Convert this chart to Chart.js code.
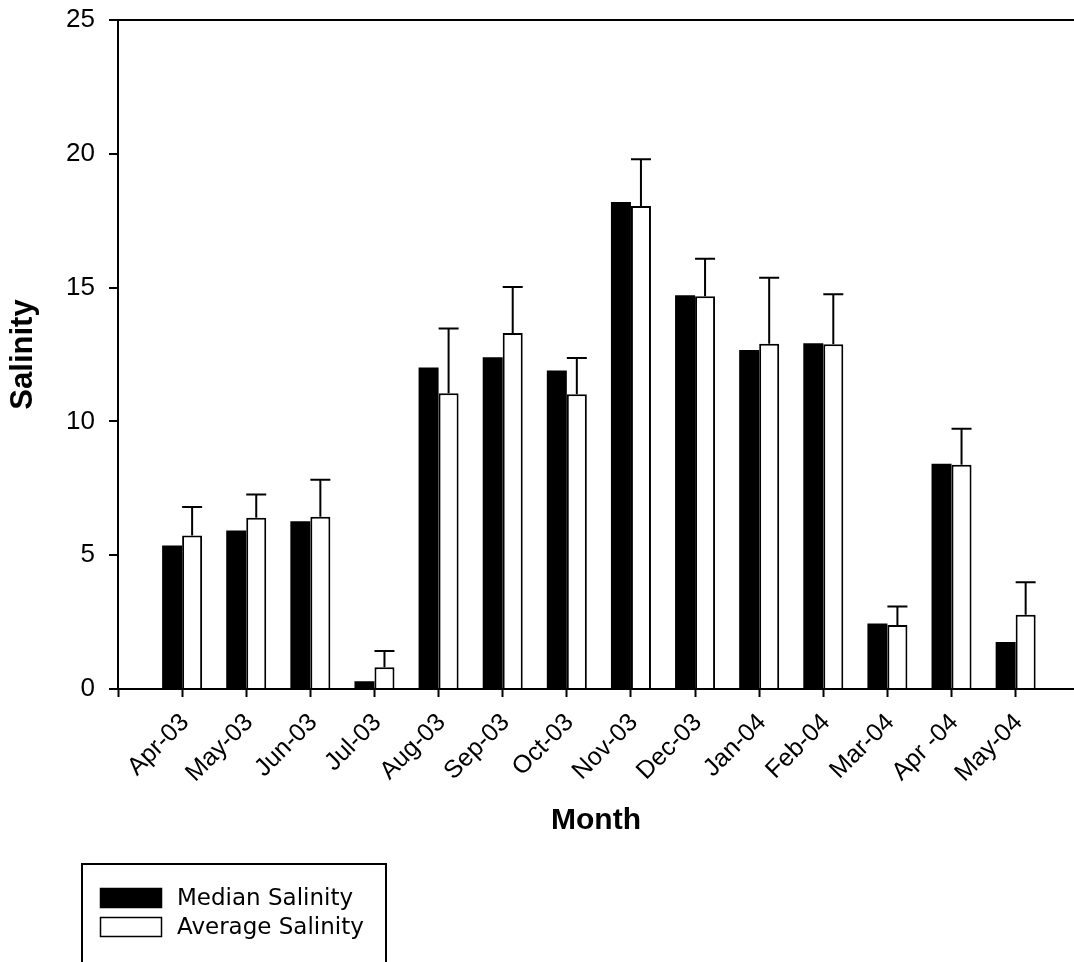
<!DOCTYPE html>
<html>
<head>
<meta charset="utf-8">
<script src="https://cdn.jsdelivr.net/npm/chart.js@4/dist/chart.umd.min.js"></script>
<style>
  html, body { margin: 0; padding: 0; background: #fff; overflow: hidden; }
  #wrap { width: 1074px; height: 962px; position: relative; }
</style>
</head>
<body>
<div id="wrap"><canvas id="chart"></canvas></div>
<script>
// 月ごとの塩分データ
const months = ['Apr-03', 'May-03', 'Jun-03', 'Jul-03', 'Aug-03', 'Sep-03', 'Oct-03',
                'Nov-03', 'Dec-03', 'Jan-04', 'Feb-04', 'Mar-04', 'Apr -04', 'May-04'];
const medianSalinity  = [5.36, 5.92, 6.27, 0.29, 12.01, 12.40, 11.90, 18.20, 14.71, 12.67, 12.92, 2.45, 8.42, 1.76];
const averageSalinity = [5.74, 6.40, 6.44, 0.81, 11.05, 13.30, 11.01, 18.05, 14.68, 12.90, 12.88, 2.39, 8.38, 2.77];
const averageError    = [1.06, 0.87, 1.38, 0.61, 2.42, 1.72, 1.36, 1.75, 1.40, 2.47, 1.87, 0.69, 1.35, 1.22];
const yTicks = [0, 5, 10, 15, 20, 25];

const ARIAL = '"Liberation Sans", Arial, sans-serif';
const DEJAVU = '"DejaVu Sans", sans-serif';
Chart.defaults.font.family = ARIAL;
Chart.defaults.color = '#000';

// 平均値の上にエラーバー(上側のみ)
const errorBarPlugin = {
  id: 'errorBars',
  afterDatasetsDraw(chart) {
    const ctx = chart.ctx;
    const meta = chart.getDatasetMeta(1);
    const yScale = chart.scales.y;
    ctx.save();
    ctx.strokeStyle = '#000';
    ctx.lineWidth = 2;
    meta.data.forEach((bar, i) => {
      const yTop = yScale.getPixelForValue(averageSalinity[i]);
      const yErr = yScale.getPixelForValue(averageSalinity[i] + averageError[i]);
      const half = bar.width / 2;
      ctx.beginPath();
      ctx.moveTo(bar.x, yTop);
      ctx.lineTo(bar.x, yErr);
      ctx.moveTo(bar.x - half, yErr);
      ctx.lineTo(bar.x + half, yErr);
      ctx.stroke();
    });
    ctx.restore();
  }
};

// 左下の枠付き凡例
const boxLegendPlugin = {
  id: 'boxLegend',
  afterDraw(chart) {
    const ctx = chart.ctx;
    ctx.save();
    ctx.strokeStyle = '#000';
    ctx.lineWidth = 2;
    ctx.beginPath();
    ctx.moveTo(82, 970);
    ctx.lineTo(82, 864);
    ctx.lineTo(386, 864);
    ctx.lineTo(386, 970);
    ctx.stroke();
    const rows = [898, 927];
    chart.data.datasets.forEach((ds, i) => {
      const cy = rows[i];
      ctx.fillStyle = ds.backgroundColor;
      ctx.fillRect(100, cy - 10, 62, 20);
      ctx.lineWidth = 1.5;
      ctx.strokeRect(100.5, cy - 9.5, 61, 19);
      ctx.fillStyle = '#000';
      ctx.font = '23px ' + DEJAVU;
      ctx.textBaseline = 'middle';
      ctx.textAlign = 'left';
      ctx.fillText(ds.label, 177, cy + 1);
    });
    ctx.restore();
  }
};

const toPoints = arr => arr.map((v, i) => ({ x: i + 1, y: v }));

new Chart(document.getElementById('chart'), {
  type: 'bar',
  plugins: [errorBarPlugin, boxLegendPlugin],
  data: {
    datasets: [
      {
        label: 'Median Salinity',
        data: toPoints(medianSalinity),
        backgroundColor: '#000',
        borderColor: '#000',
        borderWidth: 0,
        categoryPercentage: 0.624,
        barPercentage: 1.0
      },
      {
        label: 'Average Salinity',
        data: toPoints(averageSalinity),
        backgroundColor: '#fff',
        borderColor: '#000',
        borderWidth: 2,
        borderSkipped: 'start',
        categoryPercentage: 0.624,
        barPercentage: 1.0
      }
    ]
  },
  options: {
    responsive: true,
    maintainAspectRatio: false,
    animation: false,
    layout: { padding: { top: 20, right: 0, bottom: 122, left: 0 } },
    plugins: {
      legend: { display: false },
      tooltip: { enabled: false }
    },
    scales: {
      x: {
        type: 'linear',
        min: 0,
        max: 14.91,
        offset: false,
        afterBuildTicks: scale => {
          scale.ticks = months.map((m, i) => ({ value: i })).concat([{ value: months.length }]);
        },
        afterFit: scale => { scale.height = 151; },
        ticks: {
          autoSkip: false,
          minRotation: 45,
          maxRotation: 45,
          padding: 11,
          labelOffset: 3,
          font: { size: 25 },
          callback: v => months[v - 1] || ''
        },
        grid: {
          offset: false,
          drawOnChartArea: false,
          tickLength: 8,
          tickWidth: 2,
          tickColor: '#000',
          color: '#000'
        },
        border: { color: '#000', width: 2 },
        title: {
          display: true,
          text: 'Month',
          font: { size: 30, weight: 'bold' },
          padding: { top: 0, bottom: 1 }
        }
      },
      y: {
        min: 0,
        max: 25,
        afterBuildTicks: scale => { scale.ticks = yTicks.map(v => ({ value: v })); },
        afterFit: scale => {
          scale.width = 118;
          scale.paddingTop = 0;
          scale.paddingBottom = 0;
        },
        ticks: {
          padding: 14,
          font: { size: 26 }
        },
        grid: {
          drawOnChartArea: true,
          color: c => (c.tick && c.tick.value === 25) ? '#000' : 'rgba(0,0,0,0)',
          lineWidth: 2,
          tickLength: 9,
          tickWidth: 2,
          tickColor: '#000'
        },
        border: { color: '#000', width: 2 },
        title: {
          display: true,
          text: 'Salinity',
          font: { size: 31, weight: 'bold' },
          padding: { top: 5, bottom: 0 }
        }
      }
    }
  }
});
</script>
</body>
</html>
